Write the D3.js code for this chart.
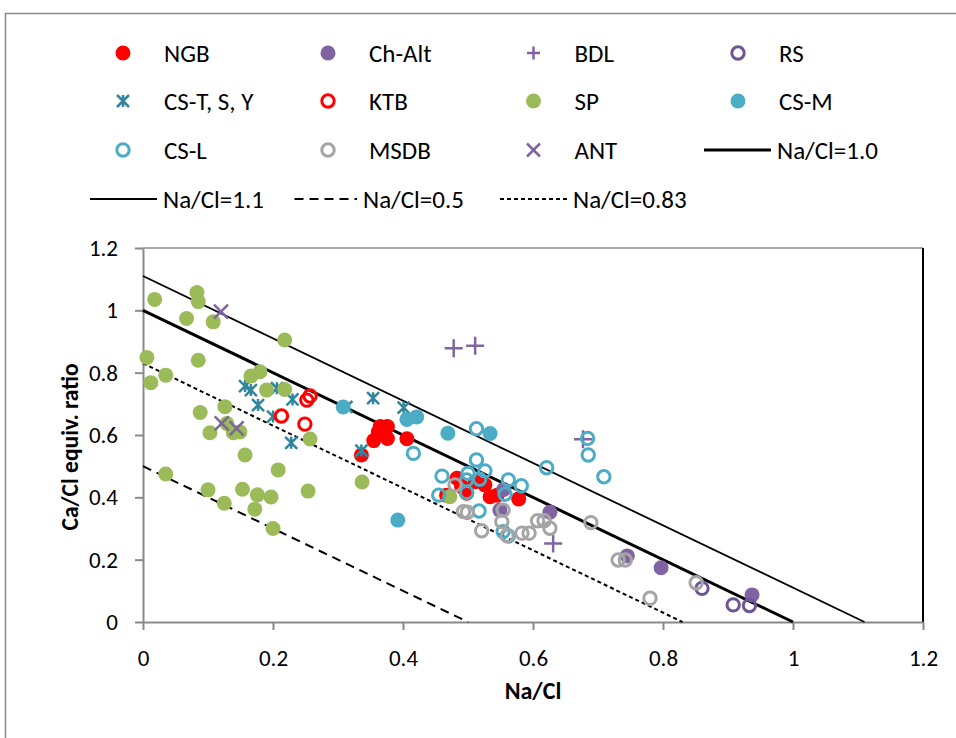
<!DOCTYPE html>
<html>
<head>
<meta charset="utf-8">
<script src="https://cdn.jsdelivr.net/npm/d3@7"></script>
<style>
  body { margin: 0; background: #fff; }
  svg text { font-family: Carlito, Calibri, Lato, sans-serif; }
</style>
</head>
<body>
<svg width="956" height="738"></svg>
<script>
var svg = d3.select('svg');

// data: [Na/Cl, Ca/Cl]
var NGB = [[0.365,0.627],[0.376,0.627],[0.362,0.61],[0.376,0.589],[0.355,0.582],[0.406,0.588],[0.336,0.536],
  [0.467,0.407],[0.483,0.461],[0.498,0.413],[0.511,0.45],[0.526,0.44],[0.534,0.402],[0.49,0.435],[0.545,0.407],[0.578,0.395]];
var ChAlt = [[0.555,0.425],[0.549,0.359],[0.626,0.352],[0.745,0.212],[0.797,0.174],[0.937,0.087]];
var BDL = [[0.478,0.878],[0.511,0.886],[0.631,0.252],[0.677,0.586]];
var RS = [[0.86,0.108],[0.908,0.055],[0.933,0.053]];
var CST = [[0.157,0.757],[0.166,0.744],[0.206,0.75],[0.23,0.714],[0.177,0.696],[0.2,0.659],[0.228,0.575],
  [0.354,0.718],[0.401,0.688],[0.336,0.55],[0.313,0.69]];
var KTB = [[0.257,0.725],[0.252,0.712],[0.213,0.661],[0.249,0.635]];
var SP = [[0.018,1.035],[0.083,1.057],[0.085,1.028],[0.067,0.974],[0.108,0.963],[0.218,0.905],[0.006,0.849],
  [0.085,0.84],[0.166,0.789],[0.18,0.803],[0.035,0.792],[0.012,0.768],[0.19,0.744],[0.218,0.746],[0.126,0.691],
  [0.088,0.672],[0.257,0.587],[0.103,0.607],[0.129,0.637],[0.149,0.61],[0.139,0.607],[0.157,0.536],[0.208,0.488],
  [0.035,0.475],[0.1,0.424],[0.153,0.426],[0.176,0.408],[0.197,0.401],[0.254,0.42],[0.125,0.381],[0.172,0.362],
  [0.2,0.30],[0.337,0.449],[0.472,0.402]];
var CSM = [[0.308,0.69],[0.406,0.65],[0.421,0.658],[0.469,0.606],[0.534,0.605],[0.392,0.327]];
var CSL = [[0.513,0.62],[0.416,0.541],[0.513,0.52],[0.526,0.485],[0.5,0.477],[0.46,0.468],[0.518,0.458],
  [0.498,0.456],[0.562,0.456],[0.582,0.437],[0.455,0.407],[0.498,0.415],[0.557,0.41],[0.517,0.356],
  [0.554,0.29],[0.562,0.276],[0.621,0.495],[0.684,0.589],[0.685,0.536],[0.709,0.466]];
var MSDB = [[0.48,0.44],[0.493,0.354],[0.499,0.352],[0.521,0.293],[0.554,0.359],[0.552,0.322],[0.56,0.277],
  [0.583,0.285],[0.594,0.285],[0.607,0.325],[0.617,0.325],[0.626,0.301],[0.689,0.319],[0.731,0.199],
  [0.742,0.199],[0.78,0.076],[0.851,0.126]];
var ANT = [[0.12,0.996],[0.121,0.637],[0.144,0.621]];

// reference lines Ca/Cl = k - Na/Cl
var refLines = [
  {name: "Na/Cl=1.0", k: 1.0, width: 3, dash: null},
  {name: "Na/Cl=1.1", k: 1.11, width: 1.8, dash: null},
  {name: "Na/Cl=0.5", k: 0.5, width: 2, dash: "9,6"},
  {name: "Na/Cl=0.83", k: 0.83, width: 2, dash: "4,3"}
];

var xTicks = [0, 0.2, 0.4, 0.6, 0.8, 1, 1.2];
var yTicks = [0, 0.2, 0.4, 0.6, 0.8, 1, 1.2];

var series = [
  {name: "NGB", pts: NGB, shape: "dot", color: "#FF0000"},
  {name: "Ch-Alt", pts: ChAlt, shape: "dot", color: "#8064A2"},
  {name: "BDL", pts: BDL, shape: "plus", color: "#8064A2"},
  {name: "RS", pts: RS, shape: "ring", color: "#6E5596"},
  {name: "CS-T, S, Y", pts: CST, shape: "star", color: "#31859C"},
  {name: "KTB", pts: KTB, shape: "ring", color: "#FF0000"},
  {name: "SP", pts: SP, shape: "dot", color: "#9BBB59"},
  {name: "CS-M", pts: CSM, shape: "dot", color: "#4BACC6"},
  {name: "CS-L", pts: CSL, shape: "ring", color: "#4BACC6"},
  {name: "MSDB", pts: MSDB, shape: "ring", color: "#A5A5A5"},
  {name: "ANT", pts: ANT, shape: "cross", color: "#8064A2"}
];

// custom stroked symbols
var plusType = { draw: function(ctx, size){
  var r = Math.sqrt(size) / 2;
  ctx.moveTo(-r, 0); ctx.lineTo(r, 0);
  ctx.moveTo(0, -r); ctx.lineTo(0, r);
}};
var crossType = { draw: function(ctx, size){
  var r = Math.sqrt(size) / 2;
  ctx.moveTo(-r, -r); ctx.lineTo(r, r);
  ctx.moveTo(-r, r); ctx.lineTo(r, -r);
}};
var starType = { draw: function(ctx, size){
  var r = Math.sqrt(size) / 2;
  ctx.moveTo(-r, -r); ctx.lineTo(r, r);
  ctx.moveTo(-r, r); ctx.lineTo(r, -r);
  ctx.moveTo(0, -r); ctx.lineTo(0, r);
}};

function drawMarker(g, shape, color, cx, cy, big){
  if (shape == "dot") {
    g.append('circle').attr('cx', cx).attr('cy', cy).attr('r', 7.5).attr('fill', color);
  } else if (shape == "ring") {
    g.append('circle').attr('cx', cx).attr('cy', cy).attr('r', 6.2).attr('fill', 'none')
      .attr('stroke', color).attr('stroke-width', 3);
  } else {
    var t = shape == "plus" ? plusType : (shape == "cross" ? crossType : starType);
    var s = shape == "star" ? 12 : (big ? (shape == "cross" ? 14 : 18) : 13);
    g.append('path').attr('d', d3.symbol().type(t).size(s * s)())
      .attr('transform', 'translate(' + cx + ',' + cy + ')')
      .attr('fill', 'none').attr('stroke', color).attr('stroke-width', 2.5);
  }
}

// chart frame
svg.append('rect').attr('x', 5.5).attr('y', 13.5).attr('width', 1000).attr('height', 800)
  .attr('fill', '#fff').attr('stroke', '#898989').attr('stroke-width', 1.5);

var x = d3.scaleLinear().domain([0, 1.2]).range([143, 923]);
var y = d3.scaleLinear().domain([0, 1.2]).range([622, 248]);

// plot area border (top gray, right black)
svg.append('line').attr('x1', x(0)).attr('x2', x(1.2)).attr('y1', y(1.2)).attr('y2', y(1.2))
  .attr('stroke', '#898989').attr('stroke-width', 1.5);
svg.append('line').attr('x1', x(1.2)).attr('x2', x(1.2)).attr('y1', y(1.2)).attr('y2', y(0))
  .attr('stroke', '#000').attr('stroke-width', 2);

function fmt(d){ return d3.format('~g')(d); }

var xAxis = svg.append('g').attr('transform', 'translate(0,' + y(0) + ')')
  .call(d3.axisBottom(x).tickValues(xTicks).tickFormat(fmt).tickSizeInner(8).tickSizeOuter(0).tickPadding(20));
var yAxis = svg.append('g').attr('transform', 'translate(' + x(0) + ',0)')
  .call(d3.axisLeft(y).tickValues(yTicks).tickFormat(fmt).tickSizeInner(8).tickSizeOuter(0).tickPadding(17));
[xAxis, yAxis].forEach(function(a){
  a.select('.domain').attr('stroke', '#898989').attr('stroke-width', 2);
  a.selectAll('.tick line').attr('stroke', '#898989').attr('stroke-width', 2);
  a.selectAll('.tick text').attr('fill', '#000').style('font-size', '23px')
    .style('font-family', 'Carlito, Calibri, Lato, sans-serif');
});

// axis titles
svg.append('text').attr('x', 533).attr('y', 699).attr('text-anchor', 'middle')
  .style('font-size', '24px').style('font-weight', 'bold').text('Na/Cl');
svg.append('text').attr('transform', 'translate(78,447) rotate(-90)').attr('text-anchor', 'middle')
  .style('font-size', '23.5px').style('font-weight', 'bold').text('Ca/Cl equiv. ratio');

// reference lines
var lineG = svg.append('g');
refLines.forEach(function(l){
  lineG.append('line').attr('x1', x(0)).attr('y1', y(l.k)).attr('x2', x(l.k)).attr('y2', y(0))
    .attr('stroke', '#000').attr('stroke-width', l.width)
    .attr('stroke-dasharray', l.dash);
});

// points
var ptsG = svg.append('g');
series.forEach(function(s){
  s.pts.forEach(function(p){
    drawMarker(ptsG, s.shape, s.color, x(p[0]), y(p[1]), true);
  });
});

// legend
var legCols = [123, 328, 533.5, 738];
var legRows = [53, 101, 150, 199];
var leg = svg.append('g');
series.forEach(function(s, i){
  var cx = legCols[i % 4], cy = legRows[Math.floor(i / 4)];
  drawMarker(leg, s.shape, s.color, cx, cy, false);
  leg.append('text').attr('x', cx + 41).attr('y', cy).attr('dy', '0.35em')
    .style('font-size', '25px').text(s.name);
});
// line entries: Na/Cl=1.0 in the last slot of row 3, others on row 4
var lineSlots = [[704, 771, 150], [90, 157, 199], [294.5, 357, 199], [500, 567, 199]];
refLines.forEach(function(l, i){
  var sl = lineSlots[i];
  leg.append('line').attr('x1', sl[0]).attr('x2', sl[1]).attr('y1', sl[2]).attr('y2', sl[2])
    .attr('stroke', '#000').attr('stroke-width', l.width).attr('stroke-dasharray', l.dash);
  leg.append('text').attr('x', sl[1] + 6).attr('y', sl[2]).attr('dy', '0.35em')
    .style('font-size', '25px').text(l.name);
});
</script>
</body>
</html>
